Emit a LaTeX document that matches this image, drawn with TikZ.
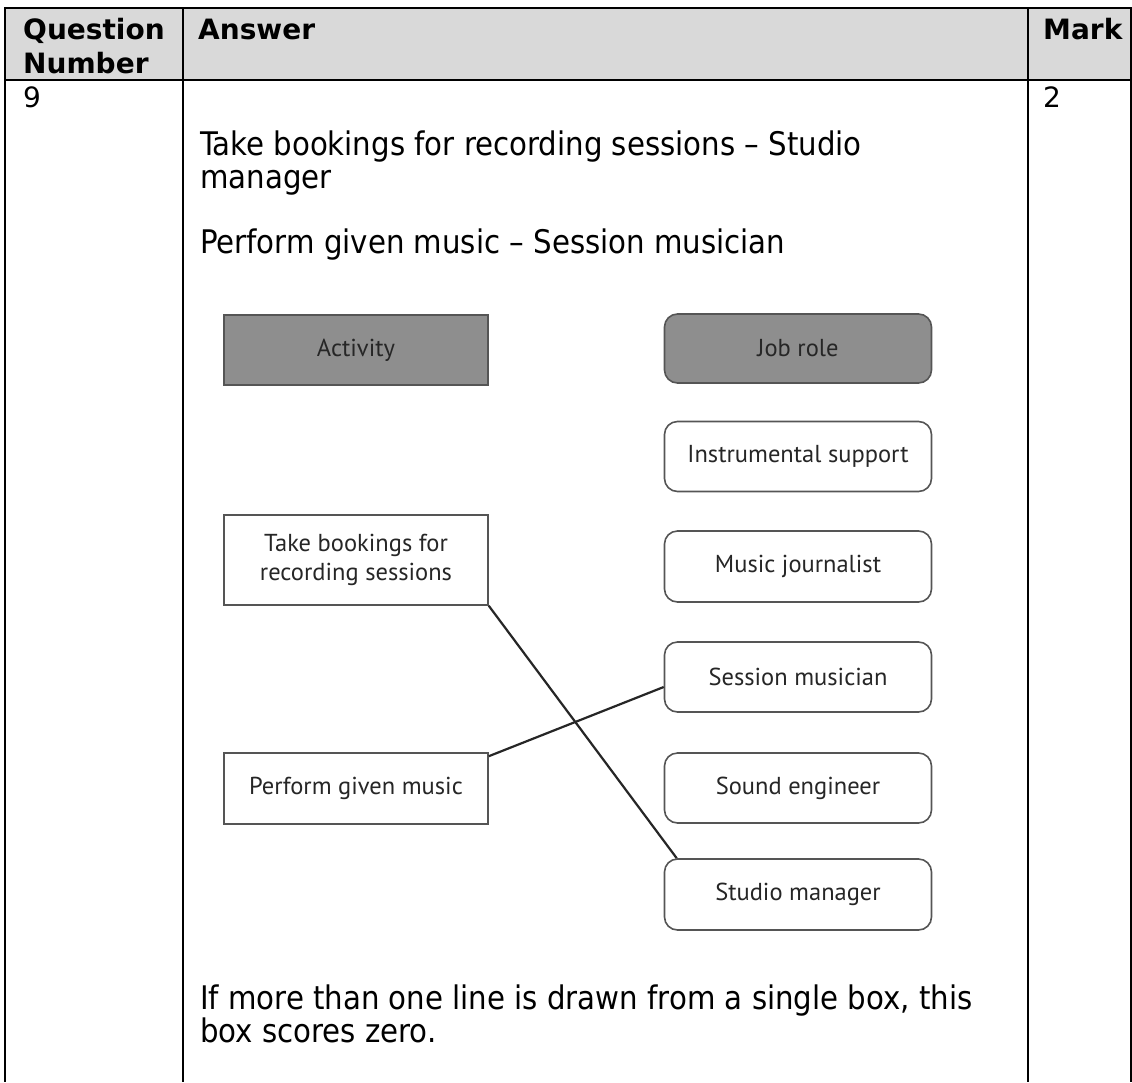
\documentclass[tikz,border=0pt]{standalone}
\usepackage{fontspec}
\setmainfont{DejaVu Sans}
\newfontfamily\bodyfont{DejaVu Sans Condensed}
\newfontfamily\boxfont{PT Sans}
\usetikzlibrary{calc}
\definecolor{hdrgray}{HTML}{D9D9D9}
\definecolor{boxgray}{HTML}{8E8E8E}
\definecolor{boxline}{HTML}{555555}
\definecolor{boxtext}{HTML}{262626}
\begin{document}
\begin{tikzpicture}[x=1pt,y=-1pt,
  rule/.style={line width=2.2pt,black},
  hdrtext/.style={inner sep=0pt,anchor=base west,font=\fontsize{28}{33}\selectfont\bfseries},
  celltext/.style={inner sep=0pt,anchor=base west,font=\fontsize{28}{33}\selectfont},
  bodytext/.style={inner sep=0pt,anchor=base west,font=\bodyfont\fontsize{32.5}{34}\selectfont},
  actbox/.style={draw=boxline,line width=1.6pt,text=boxtext,font=\boxfont\fontsize{24.5}{29}\selectfont,
     minimum width=264pt,minimum height=70pt,inner sep=0pt,align=center},
  rolebox/.style={draw=boxline,line width=1.6pt,rounded corners=13pt,text=boxtext,font=\boxfont\fontsize{24.5}{29}\selectfont,
     minimum width=267pt,minimum height=70pt,inner sep=0pt,align=center},
  shaded/.style={fill=boxgray},
  link/.style={line width=2.2pt,draw=boxtext}]
\useasboundingbox (0,0) rectangle (1132,1082);
\fill[white] (0,0) rectangle (1132,1082);
% header band
\fill[hdrgray] (5,8) rectangle (1131,80);
% table rules
\draw[rule] (4,8) -- (1132,8);
\draw[rule] (4,80) -- (1132,80);
\draw[rule] (5,8) -- (5,1082);
\draw[rule] (183,8) -- (183,1082);
\draw[rule] (1028,8) -- (1028,1082);
\draw[rule] (1131,8) -- (1131,1082);
% header texts
\node[hdrtext] (hq) at (23,39) {Question};
\node[hdrtext] (hn) at (23,73) {Number};
\node[hdrtext] (ha) at (198,39) {Answer};
\node[hdrtext] (hm) at (1043,39) {Mark};
% cell texts
\node[celltext] (qnum) at (23,107) {9};
\node[celltext] (mark) at (1043,107) {2};
\node[bodytext] (t1) at (200,155) {Take bookings for recording sessions – Studio};
\node[bodytext] (t2) at (200,188) {manager};
\node[bodytext] (t3) at (200,253) {Perform given music – Session musician};
\node[bodytext] (t4) at (200,1009) {If more than one line is drawn from a single box, this};
\node[bodytext] (t5) at (200,1042) {box scores zero.};
% diagram
\node[actbox,shaded] (act) at (356,350) {Activity};
\node[rolebox,shaded,minimum height=69pt] (job) at (798,348.5) {Job role};
\node[rolebox] (ins) at (798,456.5) {Instrumental support};
\node[rolebox,minimum height=71pt] (jour) at (798,566.5) {Music journalist};
\node[rolebox] (sess) at (798,677) {Session musician};
\node[rolebox] (snd) at (798,788) {Sound engineer};
\node[rolebox,minimum height=71pt] (stud) at (798,894.5) {Studio manager};
\node[actbox,minimum height=90pt] (take) at (356,560) {Take bookings for\\recording sessions};
\node[actbox,minimum height=71pt] (perf) at (356,788.5) {Perform given music};
% connectors
\draw[link] (take.south east) -- ($(stud.north west)+(13,0)$);
\draw[link] ($(perf.north east)+(0,4)$) -- ($(sess.west)+(0,10)$);
\end{tikzpicture}
\end{document}
